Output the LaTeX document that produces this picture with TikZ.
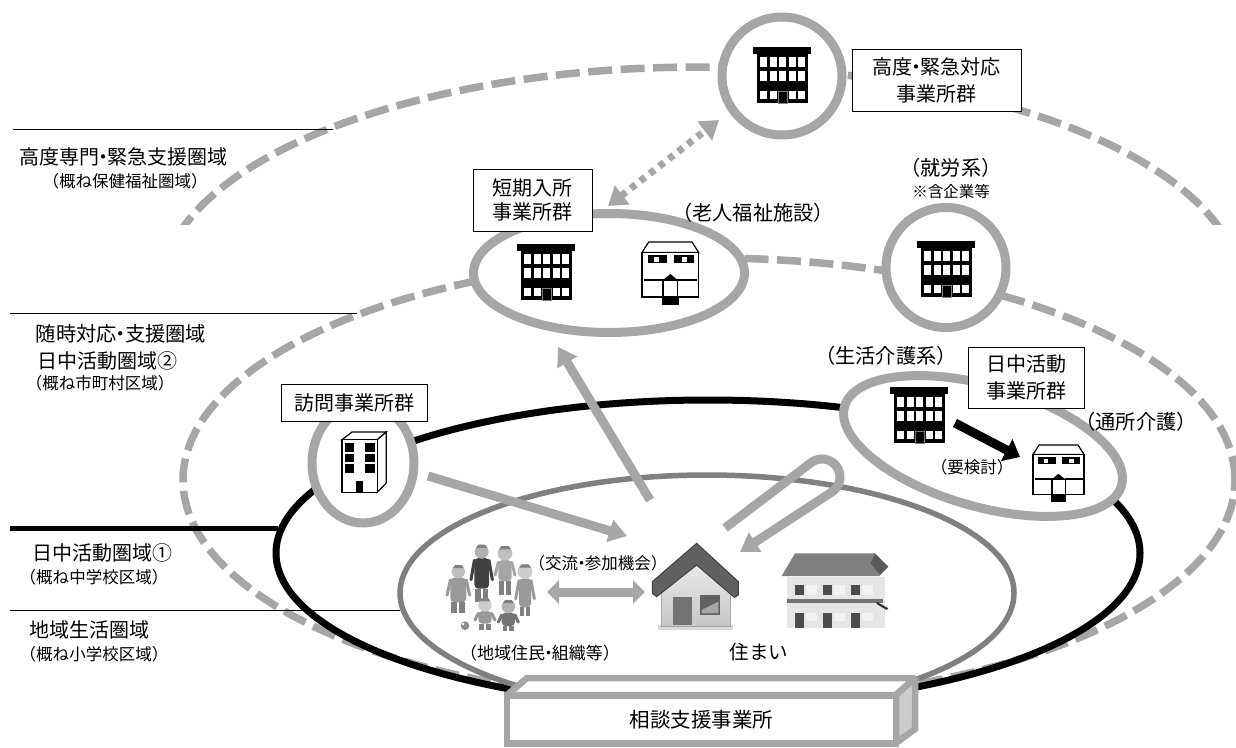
\documentclass[tikz,border=0pt]{standalone}
\usepackage{fontspec}
\setmainfont{Noto Sans CJK JP}
\usetikzlibrary{arrows.meta,shapes.geometric}
\definecolor{ringgray}{HTML}{A6A6A6}
\definecolor{innergray}{HTML}{808080}
\newcommand\fsz[2]{\fontsize{#1pt}{#2pt}\selectfont}
\newcommand\nd{\hspace{-.3em}・\hspace{-.3em}}
\newcommand\personfig[8]{%
  \fill[#8,rounded corners=4pt] ({#1-#4},{#2+#3-2}) rectangle ({#1+#4},{#2+#3+#5});
  \fill[black!50] ({#1-#4+3},{#2+#3+#5}) rectangle ({#1-3},{#2+#3+#5+#6});
  \fill[black!50] ({#1+3},{#2+#3+#5}) rectangle ({#1+#4-3},{#2+#3+#5+#6});
  \draw[#8,line width=3pt,line cap=round] ({#1-#4},{#2+#3+5}) -- ({#1-#4-10},{#2+#3+#5*.7});
  \draw[#8,line width=3pt,line cap=round] ({#1+#4},{#2+#3+5}) -- ({#1+#4+10},{#2+#3+#5*.7});
  \fill[#7] (#1,#2) circle (#3);
  \fill[black!50] ({#1-#3*.8},{#2-#3*.55}) -- ({#1-#3*.5},{#2-#3}) -- ({#1+#3*.5},{#2-#3}) -- ({#1+#3*.8},{#2-#3*.55}) -- cycle;
}
\tikzset{
  ring/.style={draw=ringgray,line width=9pt,fill=white,ellipse,inner sep=0pt},
  dashring/.style={draw=ringgray,line width=7.5pt,dash pattern=on 24pt off 8.5pt},
  grayarrow/.style={draw=ringgray,line width=9pt},
  graytip/.style={-{Triangle[length=18pt,width=22pt,fill=ringgray]}},
  lbl/.style={inner sep=0pt,align=center,font=\fsz{20.2}{24}},
  sublbl/.style={inner sep=0pt,align=center,font=\fsz{16.5}{20}},
  groupbox/.style={draw=black,line width=1pt,fill=white,inner sep=0pt,align=center,font=\fsz{20}{27}},
  zoomA/.style={shift={(400pt,-460pt)},x=.33333pt,y=-.33333pt},
  blackbldg/.pic={
    \fill[black] (0,0) rectangle (58,-7);
    \fill[black] (4,-7) rectangle (55,-56);
    \foreach \cx in {7.3,16.7,26.3,35.7,45}{
      \fill[white] (\cx,-10) rectangle ++(7,-9.5);
      \fill[white] (\cx,-24) rectangle ++(7,-9.5);
    }
    \foreach \cx in {7.3,16.7,35.7,45}{\fill[white] (\cx,-44) rectangle ++(7,-8);}
    \fill[black,draw=gray,line width=.8pt] (25.7,-44) rectangle (34.7,-56);
  },
  whitehouse/.pic={
    \draw[black,line width=1.2pt,fill=white] (0,-10.5) -- (6.7,0) -- (50,0) -- (56.7,-10.5) -- cycle;
    \draw[black,line width=1.2pt,fill=white] (0,-10.5) rectangle (56.7,-55);
    \fill[black] (5.7,-13) rectangle (25,-21.3);
    \fill[black] (32.3,-13) rectangle (51.7,-21.3);
    \fill[white] (11.7,-15) rectangle (16.7,-20);
    \fill[white] (40,-15) rectangle (45,-20);
    \draw[black,line width=1.6pt] (1.7,-38) -- (21.7,-38);
    \draw[black,line width=1.6pt] (35,-38) -- (55,-38);
    \draw[black,line width=1.2pt,fill=white] (21,-38) rectangle (35.7,-55);
    \fill[black] (21,-38) -- (28.3,-32) -- (35.7,-38) -- cycle;
    \fill[black] (20,-55) rectangle (36.7,-63);
  },
  towerbldg/.pic={
    \draw[black,line width=1.2pt,fill=white] (0,-7.7) -- (10,0) -- (44.3,0) -- (35.3,-7.7) -- cycle;
    \draw[black,line width=1.2pt,fill=white] (35.3,-7.7) -- (44.3,0) -- (44.3,-51) -- (35.3,-60.3) -- cycle;
    \draw[black,line width=1.2pt,fill=white] (0,-7.7) rectangle (35.3,-60.3);
    \foreach \ry in {-11,-21.7,-32.3}{
      \fill[black] (2.7,\ry) rectangle ++(9.3,-8.7);
      \fill[black] (23.3,\ry) rectangle ++(9.3,-8.7);
    }
    \fill[black] (13.7,-49.3) rectangle (21,-60.3);
  }
}
\begin{document}
\begin{tikzpicture}[x=1pt,y=1pt]
\useasboundingbox (0,0) rectangle (1236,-747);
\fill[white] (0,0) rectangle (1236,-747);

% named reference points
\coordinate (topcentre) at (701,-291);
\coordinate (midcentre) at (709,-480);
\coordinate (visitstart) at (428,-476);
\coordinate (hometip) at (627,-536);
\coordinate (homeout) at (650,-500);
\coordinate (shorttip) at (558,-347);
\coordinate (ustart) at (725,-528);
\coordinate (utop) at (811.4,-462.4);
\coordinate (utip) at (740,-552);
\coordinate (dotA) at (608,-206);
\coordinate (dotB) at (719,-120);
\coordinate (workA) at (955,-423);
\coordinate (workB) at (1020,-457);
\coordinate (crossA) at (547,-592);
\coordinate (crossB) at (645,-592);

% area outlines
\begin{scope}
  \clip (0,0) rectangle (1236,-224.5);
  \draw[dashring] (topcentre) circle[x radius=540,y radius=224];
\end{scope}
\draw[dashring] (midcentre) circle[x radius=526,y radius=222];

% level lines
\coordinate (l1a) at (13,-129); \coordinate (l1b) at (333,-129);
\coordinate (l2a) at (10,-313); \coordinate (l2b) at (357,-313);
\coordinate (l3a) at (10,-528); \coordinate (l3b) at (278,-528);
\coordinate (l4a) at (10,-610); \coordinate (l4b) at (400,-610);
\draw[black,line width=1pt] (l1a) -- (l1b);
\draw[black,line width=1pt] (l2a) -- (l2b);
\draw[black,line width=5pt] (l3a) -- (l3b);
\draw[black,line width=1pt] (l4a) -- (l4b);

\node[draw=black,line width=7pt,ellipse,inner sep=0pt,minimum width=864pt,minimum height=306pt] (activity) at (708,-553) {};
\node[draw=innergray,line width=5.5pt,ellipse,inner sep=0pt,minimum width=614pt,minimum height=236pt] (living) at (707,-593) {};

% arrows
\draw[grayarrow,graytip] (visitstart) -- (hometip);
\draw[grayarrow,graytip] (homeout) -- (shorttip);
\draw[grayarrow,graytip] (ustart) -- (utop) arc[start angle=126,end angle=-54,radius=18] -- (utip);
\draw[draw=ringgray,line width=7pt,dash pattern=on 6pt off 6pt,{Triangle[length=18pt,width=23pt,fill=ringgray]}-{Triangle[length=18pt,width=23pt,fill=ringgray]}] (dotA) -- (dotB);
\draw[grayarrow,{Triangle[length=12pt,width=23pt,fill=ringgray]}-{Triangle[length=12pt,width=23pt,fill=ringgray]}] (crossA) -- (crossB);

% rings
\node[ring,minimum width=120pt,minimum height=118pt] (urgent) at (782,-76) {};
\node[ring,minimum width=271pt,minimum height=119pt] (short) at (609,-273) {};
\node[ring,minimum width=120pt,minimum height=120pt] (work) at (946,-267.5) {};
\node[ring,minimum width=102pt,minimum height=120pt] (visit) at (363,-463) {};
\node[ring,minimum width=288pt,minimum height=121pt,rotate=-16] (day) at (983,-446) {};
\draw[black,line width=9pt,-{Triangle[length=15pt,width=24pt,fill=black]}] (workA) -- (workB);

% icons
\pic at (753,-47) {blackbldg};
\pic at (517,-244) {blackbldg};
\pic at (917,-241) {blackbldg};
\pic at (890,-387) {blackbldg};
\pic at (642,-242) {whitehouse};
\pic[scale=.9] at (1033,-445) {whitehouse};
\pic at (342,-432) {towerbldg};

% pictures inside the living area (units of the 3x crop)
\begin{scope}[zoomA]
  % house
  \fill[black!15] (775,495) rectangle (1000,510);
  \shade[top color=black!8,bottom color=black!22] (785,340) -- (890,300) -- (990,340) -- (990,500) -- (785,500) -- cycle;
  \draw[black!35,line width=.8pt] (785,400) -- (785,500) -- (990,500) -- (990,400);
  \fill[black!55] (820,412) rectangle (875,495);
  \fill[black!62] (900,405) rectangle (960,465);
  \fill[black!35] (905,450) -- (955,425) -- (955,460) -- (905,460) -- cycle;
  \draw[black!75,line width=1pt,fill=black!62] (890,250) -- (1015,365) -- (1015,405) -- (1003,412) -- (890,315) -- (770,410) -- (757,400) -- (757,365) -- cycle;
  % apartment
  \fill[black!10] (1160,350) rectangle (1455,505);
  \fill[black!50] (1145,348) -- (1185,280) -- (1425,280) -- (1440,348) -- cycle;
  \fill[black!65] (1425,280) -- (1465,320) -- (1440,345) -- (1412,310) -- cycle;
  \foreach \ax in {1185,1270,1353}{
    \fill[black!70] (\ax,375) rectangle ++(26,30);
    \fill[black!5] (\ax+32,375) rectangle ++(34,30);
    \fill[black!70] (\ax,458) rectangle ++(26,45);
    \fill[black!5] (\ax+32,458) rectangle ++(34,26);
  }
  \fill[black!55] (1160,418) rectangle (1450,428);
  \fill[black!80] (1430,425) -- (1465,445) -- (1460,450) -- (1430,432) -- cycle;
  % people
  \personfig{175}{335}{20}{24}{72}{32}{black!25}{black!40}
  \personfig{245}{275}{21}{22}{90}{40}{black!30}{black!75}
  \personfig{315}{280}{22}{20}{62}{40}{black!25}{black!35}
  \personfig{375}{335}{22}{18}{85}{25}{black!20}{black!40}
  \personfig{255}{435}{20}{20}{36}{18}{black!20}{black!40}
  \personfig{325}{440}{20}{20}{38}{16}{black!30}{black!55}
  \fill[black!45] (195,497) circle (13);
  \fill[white] (190,492) circle (4);
\end{scope}

% consultation box
\draw[ringgray,line width=6.5pt,fill=white,line join=miter,miter limit=2] (507,-695) -- (527,-678) -- (915,-678) -- (896,-695) -- cycle;
\draw[ringgray,line width=6.5pt,fill=black!20,line join=miter,miter limit=2] (896,-695) -- (915,-678) -- (915,-729) -- (896,-743) -- cycle;
\node[draw=ringgray,line width=6.5pt,fill=white,inner sep=0pt,minimum width=389pt,minimum height=48pt,font=\fsz{20.5}{24}] (consult) at (701.5,-719.5) {相談支援事業所};

% group boxes
\node[groupbox,minimum width=169pt,minimum height=62pt] (urgentbox) at (936.5,-80) {高度\nd 緊急対応\\事業所群};
\node[groupbox,font=\fsz{20}{24},minimum width=119pt,minimum height=62pt] (shortbox) at (532.5,-200) {短期入所\\事業所群};
\node[groupbox,minimum width=146pt,minimum height=37pt] (visitbox) at (354,-402.5) {訪問事業所群};
\node[groupbox,minimum width=116pt,minimum height=61pt] (daybox) at (1026,-377.5) {日中活動\\事業所群};

% free labels
\node[lbl] (t1) at (753,-213) {（老人福祉施設）};
\node[lbl] (t2) at (951,-168) {（就労系）};
\node[sublbl,font=\fsz{15.5}{20}] (t3) at (951,-192) {※含企業等};
\node[lbl] (t4) at (886,-356) {（生活介護系）};
\node[lbl] (t5) at (1136,-422) {（通所介護）};
\node[sublbl] (t6) at (972,-467) {（要検討）};
\node[sublbl] (t7) at (598,-563) {（交流\nd 参加機会）};
\node[inner sep=0pt,font=\fsz{17}{20}] (t8) at (540,-653) {（地域住民\nd 組織等）};
\node[lbl,font=\fsz{19.5}{24}] (t9) at (759,-652) {住まい};

\node[lbl,font=\fsz{20}{24}] (a1) at (123.5,-157) {高度専門\nd 緊急支援圏域};
\node[sublbl] (a2) at (125,-181) {（概ね保健福祉圏域）};
\node[lbl,font=\fsz{20.3}{24}] (b1) at (121,-334) {随時対応\nd 支援圏域};
\node[lbl,font=\fsz{20}{24}] (b2) at (107,-361) {日中活動圏域②};
\node[sublbl] (b3) at (100,-383) {（概ね市町村区域）};
\node[lbl,font=\fsz{20}{24}] (c1) at (102,-553) {日中活動圏域①};
\node[sublbl] (c2) at (94,-577) {（概ね中学校区域）};
\node[lbl,font=\fsz{20}{24}] (d1) at (89,-630) {地域生活圏域};
\node[sublbl] (d2) at (94,-654) {（概ね小学校区域）};
\end{tikzpicture}
\end{document}
